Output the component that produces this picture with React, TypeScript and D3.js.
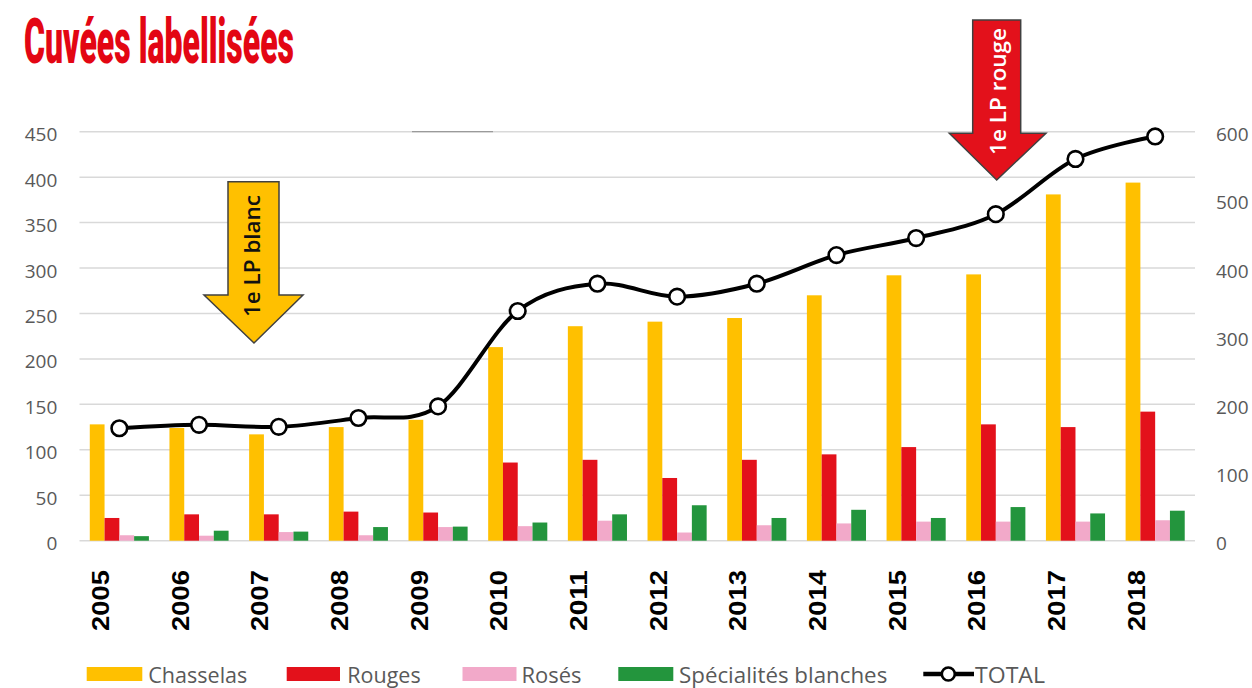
import React from "react";
import * as d3 from "d3";

const years = ["2005","2006","2007","2008","2009","2010","2011","2012","2013","2014","2015","2016","2017","2018"];
const chasselas = [128,124,117,125,133,213,236,241,245,270,292,293,381,394];
const rouges = [25,29,29,32,31,86,89,69,89,95,103,128,125,142];
const roses = [6,5.5,9.5,6,15,16,22,9,17,19,21,21,21,22.5];
const specialites = [5,11,10,15,15.5,20,29,39,25,34,25,37,30,33];
const total = [165,170,167,180,197,337,377,358,377,419,444,479,560,593];

const leftTicks = [0,50,100,150,200,250,300,350,400,450];
const rightTicks = [0,100,200,300,400,500,600];

const seriesNames = ["Chasselas","Rouges","Rosés","Spécialités blanches"];
const seriesValues = [chasselas, rouges, roses, specialites];
const seriesColors = ["#FFC000","#E3111B","#F2A9C9","#23953D"];

const W = 1252, H = 688;
const X0 = 79.5, X1 = 1195;
const Y0 = 540.7, Y1 = 131.7;

export default function App() {
  const x = d3.scaleBand<string>().domain(years).range([X0, X1]).paddingInner(0).paddingOuter(0);
  const bw = x.bandwidth();
  const xs = d3.scaleBand<string>().domain(seriesNames).range([bw * 0.129, bw * 0.871]).padding(0);
  const yL = d3.scaleLinear().domain([0, 450]).range([Y0, Y1]);
  const yR = d3.scaleLinear().domain([0, 600]).range([Y0, Y1]);

  const line = d3.line<number>()
    .x((_, i) => (x(years[i]) as number) + bw / 2)
    .y((d) => yR(d))
    .curve(d3.curveCardinal.tension(0));

  const font = "'Open Sans', 'Liberation Sans', sans-serif";
  const gray = "#595959";

  const legendItems = [
    { name: seriesNames[0], color: seriesColors[0], sx: 86.7, sw: 55.6, tx: 148.3, tw: 99 },
    { name: seriesNames[1], color: seriesColors[1], sx: 286.7, sw: 53.3, tx: 347.3, tw: 73.4 },
    { name: seriesNames[2], color: seriesColors[2], sx: 462.5, sw: 54, tx: 521.5, tw: 60 },
    { name: seriesNames[3], color: seriesColors[3], sx: 618.3, sw: 55, tx: 679, tw: 208.3 },
  ];

  return (
    <svg width={W} height={H} style={{ position: "absolute", left: 0, top: 0, background: "#fff" }}>
      <rect x={0} y={0} width={W} height={H} fill="#fff" />
      <text x={24} y={62.7} fill="#E30613" fontFamily="'Roboto', 'Liberation Sans', sans-serif" fontWeight={900}
        fontSize={63} textLength={270} lengthAdjust="spacingAndGlyphs">Cuvées labellisées</text>

      {leftTicks.map((t) => (
        <line key={t} x1={X0} x2={X1} y1={yL(t)} y2={yL(t)} stroke="#d9d9d9" strokeWidth={1.5} />
      ))}
      <line x1={412} x2={493} y1={yL(450)} y2={yL(450)} stroke="#9a9a9a" strokeWidth={1.3} />

      {leftTicks.map((t) => (
        <text key={t} x={57.3} y={yL(t) + 2.5} textAnchor="end" dominantBaseline="central"
          fontFamily={font} fontSize={19} fill={gray} fontWeight={500}>{t}</text>
      ))}
      {rightTicks.map((t) => (
        <text key={t} x={1216} y={yR(t) + 2.5} textAnchor="start" dominantBaseline="central"
          fontFamily={font} fontSize={19} fill={gray} fontWeight={500}>{t}</text>
      ))}

      {seriesValues.map((vals, si) => (
        <g key={si}>
          {vals.map((v, i) => (
            <rect key={i}
              x={(x(years[i]) as number) + (xs(seriesNames[si]) as number)}
              y={yL(v)} width={xs.bandwidth()} height={Y0 - yL(v)} fill={seriesColors[si]} />
          ))}
        </g>
      ))}

      {years.map((yr) => {
        const cx = (x(yr) as number) + bw / 2 - 18.5;
        const cy = 600.5;
        return (
          <text key={yr} transform={`translate(${cx},${cy}) rotate(-90)`} textAnchor="middle"
            dominantBaseline="central" fontFamily="'Liberation Sans', Arial, sans-serif" fontWeight={700}
            fontSize={23} fill="#000" textLength={61} lengthAdjust="spacingAndGlyphs">{yr}</text>
        );
      })}

      <path d="M228,181.7 L279,181.7 L279,295 L303,295 L254,343 L204,295 L228,295 Z"
        fill="#FFC000" stroke="#404040" strokeWidth={1.5} strokeLinejoin="miter" />
      <text transform="translate(252,256) rotate(-90)" textAnchor="middle" dominantBaseline="central"
        fontFamily={font} fontSize={21} fontWeight={600} fill="#111" textLength={122} lengthAdjust="spacingAndGlyphs">1e LP blanc</text>

      <path d="M972.7,20 L1020.7,20 L1020.7,133.3 L1046,133.3 L996.7,180 L949.3,133.3 L972.7,133.3 Z"
        fill="#E3111B" stroke="#404040" strokeWidth={1.5} />
      <text transform="translate(998,91.5) rotate(-90)" textAnchor="middle" dominantBaseline="central"
        fontFamily={font} fontSize={21} fontWeight={600} fill="#fff" textLength={127} lengthAdjust="spacingAndGlyphs">1e LP rouge</text>

      <path d={line(total) || ""} fill="none" stroke="#000" strokeWidth={4} strokeLinejoin="round" />
      {total.map((v, i) => (
        <circle key={i} cx={(x(years[i]) as number) + bw / 2} cy={yR(v)} r={7.8}
          fill="#fff" stroke="#000" strokeWidth={2.6} />
      ))}

      {legendItems.map((it) => (
        <g key={it.name}>
          <rect x={it.sx} y={667} width={it.sw} height={14} fill={it.color} />
          <text x={it.tx} y={674.5} dominantBaseline="central" fontFamily={font} fontSize={21} fill={gray}
            textLength={it.tw} lengthAdjust="spacingAndGlyphs">{it.name}</text>
        </g>
      ))}
      <line x1={923.3} x2={974} y1={674} y2={674} stroke="#000" strokeWidth={4.5} />
      <circle cx={948.3} cy={674} r={6.5} fill="#fff" stroke="#000" strokeWidth={2.6} />
      <text x={975} y={674.5} dominantBaseline="central" fontFamily={font} fontSize={21} fill={gray}
        textLength={70} lengthAdjust="spacingAndGlyphs">TOTAL</text>
    </svg>
  );
}
